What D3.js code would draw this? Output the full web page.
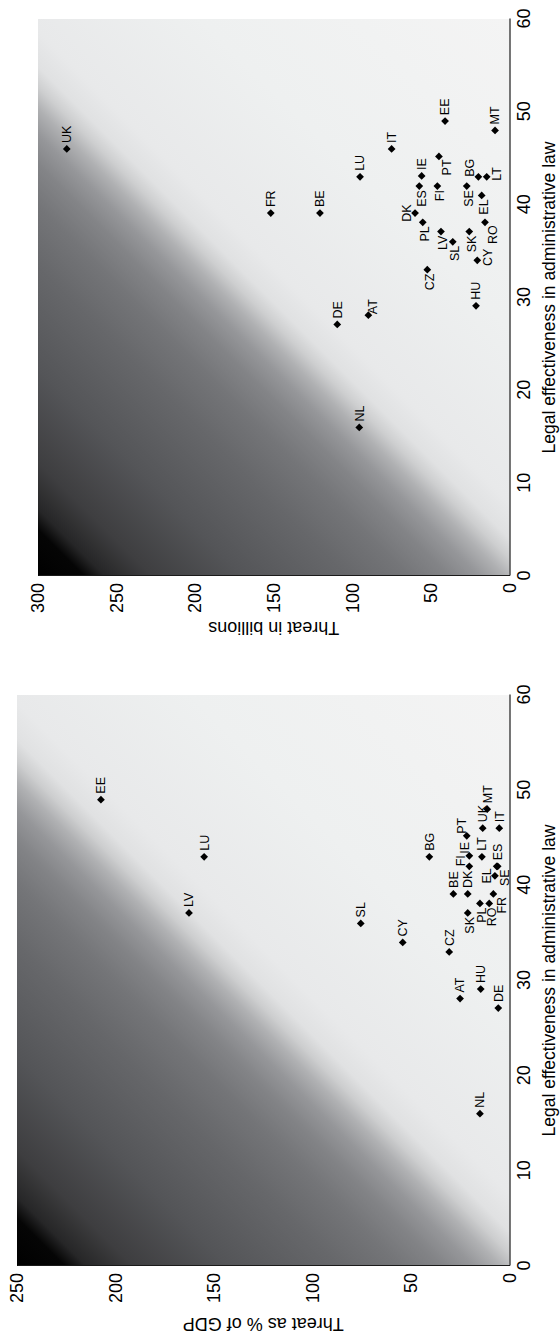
<!DOCTYPE html>
<html>
<head>
<meta charset="utf-8">
<script src="https://cdn.jsdelivr.net/npm/d3@7"></script>
<style>
  body { margin: 0; background: #fff; }
  svg { display: block; font-family: "Liberation Sans", Arial, Helvetica, sans-serif; }
</style>
</head>
<body>
<div id="chart"></div>
<script>

// country codes, same order in every array below
const countries = ["UK","FR","BE","LU","DE","AT","NL","HU","EE","MT","IT","PT","IE","BG",
    "LT","ES","FI","SE","EL","DK","PL","RO","LV","SK","SL","CY","CZ"]

// legal effectiveness in administrative law (x in both panels)
const legal = [46.0,39.1,39.1,43.0,27.1,28.1,16.0,29.1,49.0,48.0,46.0,45.2,43.1,43.0,
    43.0,42.0,42.0,42.0,41.0,39.1,38.1,38.1,37.1,37.1,36.0,34.0,33.0]

// threat in billions (upper panel)
const threatBillions = [281.7,151.9,120.6,95.1,109.6,89.8,95.6,21.3,41.0,9.2,75.0,44.9,55.9,19.8,
    14.5,57.4,45.9,27.2,17.7,60.1,55.2,15.6,43.6,25.6,36.1,20.5,52.3]

// threat as % of GDP (lower panel)
const threatGdp = [13.6,8.2,28.5,155.0,5.7,25.1,15.0,14.6,207.4,11.3,5.2,21.7,20.4,40.7,
    14.0,6.0,20.4,6.5,7.4,21.2,15.0,10.3,162.7,21.2,75.5,54.2,30.6]

// tick labels
const xTicks = [0,10,20,30,40,50,60]
const yTicksBillions = [0,50,100,150,200,250,300]
const yTicksGdp = [0,50,100,150,200,250]

// marker label placement (clock position, like stata mlabvpos)
const labelPosBillions = {UK:3,FR:3,BE:3,LU:3,DE:3,AT:0,NL:3,HU:3,EE:3,MT:3,IT:3,PT:7,IE:3,BG:1,
    LT:6,ES:9,FI:9,SE:9,EL:9,DK:12,PL:9,RO:7,LV:9,SK:9,SL:9,CY:6,CZ:9}
const labelPosGdp = {UK:3,FR:7,BE:3,LU:3,DE:3,AT:3,NL:3,HU:3,EE:3,MT:3,IT:3,PT:2,IE:2,BG:3,
    LT:3,ES:3,FI:1,SE:7,EL:12,DK:3,PL:9,RO:9,LV:3,SK:9,SL:3,CY:3,CZ:3}

const clock = {
    3:  {anchor: "start",  dx: 6,  dy: 0},
    9:  {anchor: "end",    dx: -4, dy: 2},
    12: {anchor: "middle", dx: 0,  dy: -8},
    6:  {anchor: "middle", dx: 3,  dy: 10},
    1:  {anchor: "start",  dx: 0,  dy: -9},
    2:  {anchor: "start",  dx: 2,  dy: -5},
    7:  {anchor: "end",    dx: -3, dy: 8},
    0:  {anchor: "start",  dx: 1,  dy: 4}
}

// background shading, dark at (x=0, y=max), fading along the diagonal
const shadeStops = [
    [0.000, "#000000"], [0.045, "#050505"], [0.065, "#262627"], [0.110, "#3e3e40"],
    [0.200, "#545558"], [0.300, "#66676a"], [0.360, "#747578"], [0.400, "#838487"],
    [0.430, "#96979a"], [0.455, "#b0b1b3"], [0.475, "#cdcecf"], [0.495, "#e0e1e2"],
    [0.530, "#e8e9ea"], [0.700, "#eef0f0"], [1.000, "#f4f4f4"]
]

const svg = d3.select("#chart").append("svg")
    .attr("width", 560)
    .attr("height", 1333)

const defs = svg.append("defs")

function panel(opts) {
    const {id, left, bottom, width, height, yMax, values, yTicks, yTitle, yTitleGap, labelPos} = opts

    // whole panel is drawn normally then turned a quarter left
    const g = svg.append("g")
        .attr("transform", `translate(${left},${bottom}) rotate(-90)`)

    const xScale = d3.scaleLinear().domain([0, 60]).range([0, width])
    const yScale = d3.scaleLinear().domain([0, yMax]).range([height, 0])

    const d = (width + height) / 2
    const grad = defs.append("linearGradient")
        .attr("id", id)
        .attr("gradientUnits", "userSpaceOnUse")
        .attr("x1", 0).attr("y1", 0)
        .attr("x2", d).attr("y2", d)
    grad.selectAll("stop").data(shadeStops).join("stop")
        .attr("offset", s => s[0])
        .attr("stop-color", s => s[1])

    g.append("rect")
        .attr("width", width)
        .attr("height", height)
        .attr("fill", `url(#${id})`)

    // axes
    const xGroup = g.append("g")
        .attr("transform", `translate(0,${height})`)
        .call(d3.axisBottom(xScale).tickValues(xTicks).tickSize(0).tickPadding(8))
    const yGroup = g.append("g")
        .call(d3.axisLeft(yScale).tickValues(yTicks).tickSize(0).tickPadding(7))

    ;[xGroup, yGroup].forEach(a => {
        a.attr("font-size", 18).attr("font-family", null)
        a.select(".domain").attr("stroke", "#1a1a1a").attr("stroke-width", 1.2)
        a.selectAll("text").attr("fill", "#000")
    })

    g.append("text")
        .attr("x", width / 2)
        .attr("y", height + 45.5)
        .attr("text-anchor", "middle")
        .attr("font-size", 17.5)
        .text("Legal effectiveness in administrative law")

    g.append("text")
        .attr("transform", `translate(${-yTitleGap},${height / 2}) rotate(-90)`)
        .attr("text-anchor", "middle")
        .attr("font-size", 18)
        .text(yTitle)

    // markers
    const idx = d3.range(countries.length)
    g.selectAll("path.pt").data(idx).join("path")
        .attr("class", "pt")
        .attr("d", d3.symbol(d3.symbolSquare, 30))
        .attr("transform", i => `translate(${xScale(legal[i])},${yScale(values[i])}) rotate(45)`)
        .attr("fill", "#000")

    g.selectAll("text.lab").data(idx).join("text")
        .attr("class", "lab")
        .attr("x", i => xScale(legal[i]) + clock[labelPos[countries[i]]].dx)
        .attr("y", i => yScale(values[i]) + clock[labelPos[countries[i]]].dy)
        .attr("dy", "0.35em")
        .attr("text-anchor", i => clock[labelPos[countries[i]]].anchor)
        .attr("font-size", 12.5)
        .attr("fill", "#000")
        .text(i => countries[i])
}

panel({
    id: "shadeBillions", left: 38, bottom: 576, width: 557, height: 471.5,
    yMax: 300, values: threatBillions, yTicks: yTicksBillions,
    yTitle: "Threat in billions", yTitleGap: 46, labelPos: labelPosBillions
})

panel({
    id: "shadeGdp", left: 17, bottom: 1266, width: 571, height: 492.5,
    yMax: 250, values: threatGdp, yTicks: yTicksGdp,
    yTitle: "Threat as % of GDP", yTitleGap: 52, labelPos: labelPosGdp
})

</script>
</body>
</html>
